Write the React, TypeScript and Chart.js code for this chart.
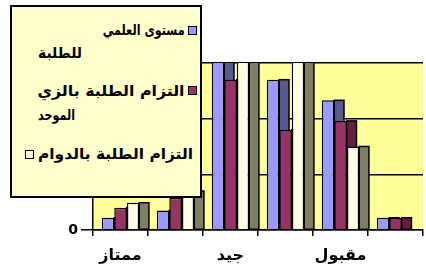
import React, { useEffect, useLayoutEffect, useRef } from "react";
import { Chart, registerables } from "chart.js";

Chart.register(...registerables);

// ---- data ----
const categories = ["ممتاز", "", "جيد", "", "مقبول", ""];
const seriesNames = [
  "مستوى العلمي للطلبة",
  "التزام الطلبة بالزي الموحد",
  "التزام الطلبة بالدوام",
];
const academicLevel = [2.2, 3.5, 35, 27, 23.3, 2.2];
const uniformCommitment = [4.0, 5.8, 27, 18, 19.6, 2.2];
const attendanceCommitment = [4.9, 7.0, 35, 35, 15, 0];
const yTicks = [0, 10, 20, 30];
const legendLines = [
  ["مستوى العلمي", "للطلبة"],
  ["التزام الطلبة بالزي", "الموحد"],
  ["التزام الطلبة بالدوام"],
];

const seriesData = [academicLevel, uniformCommitment, attendanceCommitment];
const frontColors = ["#9999FF", "#993366", "#FFFFE6"];
const sideColors = ["#565A8E", "#66203F", "#7F7F66"];
const FONT = "'DejaVu Sans', sans-serif";

// legend line layout (page coords): [left, right, centerY]
const lineBoxes = [
  [103, 185, 30],
  [38, 82, 53],
  [38, 185, 91],
  [38, 75, 115],
  [38, 193, 154],
];
const lineAnchors = ["right", "left", "right", "left", "left"];

const plotBg = {
  id: "plotBg",
  beforeDraw(chart: any) {
    const { ctx, chartArea: a } = chart;
    ctx.save();
    ctx.fillStyle = "#FFFF99";
    ctx.fillRect(a.left, a.top, a.right - a.left, a.bottom - a.top);
    ctx.restore();
  },
};

const sideFaces = {
  id: "sideFaces",
  beforeDatasetsDraw(chart: any) {
    const { ctx, chartArea: a } = chart;
    ctx.save();
    ctx.beginPath();
    ctx.rect(a.left, a.top, a.right - a.left, a.bottom - a.top);
    ctx.clip();
    chart.data.datasets.forEach((_: any, i: number) => {
      const meta = chart.getDatasetMeta(i);
      meta.data.forEach((el: any) => {
        const p = el.getProps(["x", "y", "base", "width"], true);
        if (Math.abs(p.base - p.y) < 0.5) return;
        const depth = p.width * 0.78;
        const x0 = p.x + p.width / 2;
        const top = Math.min(p.y, p.base);
        const h = Math.abs(p.base - p.y);
        ctx.fillStyle = sideColors[i];
        ctx.fillRect(x0, top, depth, h);
        ctx.strokeStyle = "#000";
        ctx.lineWidth = 1.5;
        ctx.strokeRect(x0, top, depth, h);
      });
    });
    ctx.restore();
  },
};

export default function App() {
  const canvasRef = useRef<HTMLCanvasElement | null>(null);
  const lineRefs = useRef<(HTMLSpanElement | null)[]>([]);

  useLayoutEffect(() => {
    document.body.style.margin = "0";
    lineRefs.current.forEach((el, i) => {
      if (!el) return;
      el.style.transform = "none";
      const w = el.getBoundingClientRect().width;
      const target = lineBoxes[i][1] - lineBoxes[i][0];
      if (w > 0) el.style.transform = `scaleX(${target / w})`;
    });
  }, []);

  useEffect(() => {
    const canvas = canvasRef.current;
    if (!canvas) return;
    const chart = new Chart(canvas, {
      type: "bar",
      data: {
        labels: categories,
        datasets: seriesData.map((d, i) => ({
          label: seriesNames[i],
          data: d,
          backgroundColor: frontColors[i],
          borderColor: "#000",
          borderWidth: 1.5,
          barPercentage: 1,
          categoryPercentage: 0.68,
        })),
      },
      options: {
        responsive: false,
        animation: false,
        layout: { padding: { left: 0, top: 63, right: 3, bottom: 0 } },
        plugins: { legend: { display: false }, tooltip: { enabled: false } },
        scales: {
          x: {
            grid: {
              offset: true,
              drawOnChartArea: false,
              drawTicks: true,
              tickLength: 6,
              color: "#000",
              lineWidth: 1.5,
            },
            border: { color: "#000", width: 1.5 },
            ticks: {
              autoSkip: false,
              maxRotation: 0,
              padding: 10,
              color: "#000",
              font: { family: FONT, weight: "bold", size: 16 },
            },
            afterFit: (s: any) => {
              s.height = 38;
            },
          },
          y: {
            min: 0,
            max: 30,
            afterBuildTicks: (s: any) => {
              s.ticks = yTicks.map((v) => ({ value: v }));
            },
            ticks: {
              padding: 3,
              color: "#000",
              font: { family: FONT, weight: "bold", size: 14 },
            },
            grid: { color: "#000", lineWidth: 1.5, tickLength: 12 },
            border: { color: "#000", width: 1.5 },
            afterFit: (s: any) => {
              s.width = 93;
            },
          },
        },
      } as any,
      plugins: [plotBg, sideFaces],
    });
    return () => chart.destroy();
  }, []);

  // legend inner origin (inside the 2px border) in page coords
  const OX = 12;
  const OY = 7;
  const INNER_W = 188;

  const flatLines = legendLines.flat();

  const markerStyle = (i: number, x: number, y: number): React.CSSProperties => ({
    position: "absolute",
    left: x - OX,
    top: y - OY,
    width: 9,
    height: 9,
    boxSizing: "border-box",
    border: "1.5px solid #000",
    background: frontColors[i],
  });

  return (
    <div
      style={{
        position: "relative",
        width: 426,
        height: 268,
        overflow: "hidden",
        background: "#fff",
      }}
    >
      <canvas
        ref={canvasRef}
        width={426}
        height={268}
        style={{ position: "absolute", left: 0, top: 0 }}
      />
      <div
        style={{
          position: "absolute",
          left: 10,
          top: 5,
          width: 192,
          height: 193,
          boxSizing: "border-box",
          border: "2px solid #000",
          background: "#FFFFCC",
        }}
      >
        <div style={markerStyle(0, 188, 26)} />
        <div style={markerStyle(1, 188, 86)} />
        <div style={markerStyle(2, 25, 150)} />
        {flatLines.map((txt, i) => {
          const [l, r, cy] = lineBoxes[i];
          const anchor = lineAnchors[i];
          const pos: React.CSSProperties =
            anchor === "right"
              ? { right: OX + INNER_W - r, transformOrigin: "right center" }
              : { left: l - OX, transformOrigin: "left center" };
          return (
            <span
              key={i}
              dir="rtl"
              ref={(el) => {
                lineRefs.current[i] = el;
              }}
              style={{
                position: "absolute",
                whiteSpace: "nowrap",
                fontFamily: FONT,
                fontWeight: "bold",
                fontSize: 15,
                lineHeight: "20px",
                height: 20,
                top: cy - 10 - OY,
                color: "#000",
                ...pos,
              }}
            >
              {txt}
            </span>
          );
        })}
      </div>
    </div>
  );
}
